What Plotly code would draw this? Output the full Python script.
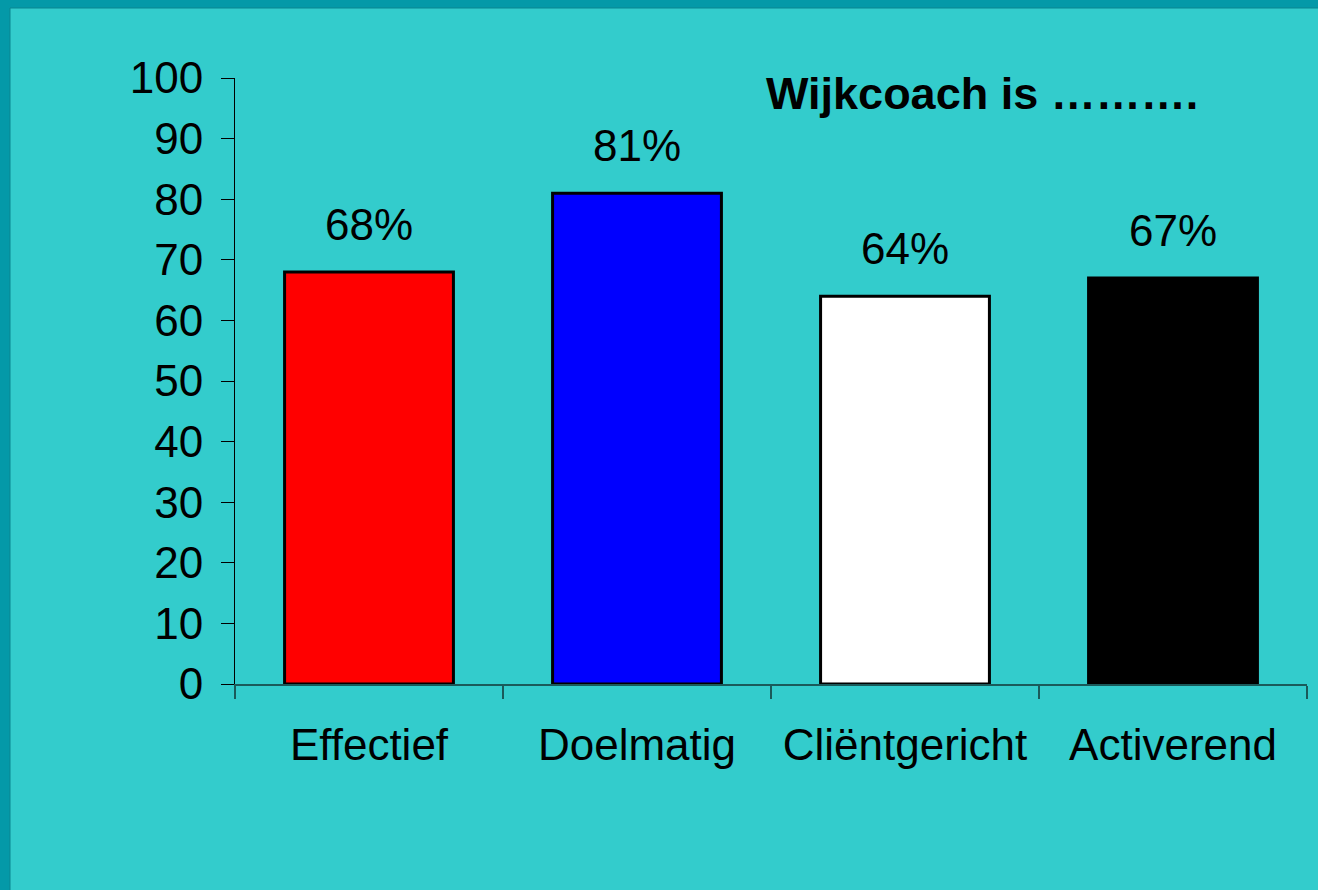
import plotly.graph_objects as go

categories = ["Effectief", "Doelmatig", "Cliëntgericht", "Activerend"]
values = [68, 81, 64, 67]
labels = ["68%", "81%", "64%", "67%"]
bar_colors = ["#FF0000", "#0000FF", "#FFFFFF", "#000000"]
y_ticks = [0, 10, 20, 30, 40, 50, 60, 70, 80, 90, 100]
title_text = "Wijkcoach is ………."

W, H = 1318, 890
L, R, T, B = 235, 11, 78, 206
pw, ph = W - L - R, H - T - B

def px_x(p):
    return (p - L) / pw

def px_y(p):
    return (H - B - p) / ph

FONT = "Arial, Liberation Sans, sans-serif"
FS = 44

fig = go.Figure()
fig.add_trace(go.Bar(
    x=categories, y=values,
    marker=dict(color=bar_colors, line=dict(color="#000000", width=3)),
    hoverinfo="skip",
))

for c, v, t in zip(categories, values, labels):
    fig.add_annotation(x=c, y=v, text=t, showarrow=False, yanchor="bottom",
                       yshift=21, font=dict(size=FS, color="#000000", family=FONT))

fig.add_annotation(xref="paper", yref="paper", x=px_x(764), y=px_y(121),
                   xanchor="left", yanchor="bottom", text="<b>" + title_text + "</b>",
                   showarrow=False, font=dict(size=45, color="#000000", family=FONT))

fig.add_shape(type="rect", xref="paper", yref="paper",
              x0=px_x(10), x1=px_x(1330), y0=px_y(900), y1=px_y(8),
              fillcolor="#33CCCC", line=dict(color="#0a8590", width=1), layer="below")

fig.update_layout(
    width=W, height=H,
    margin=dict(l=L, r=R, t=T, b=B, pad=0),
    paper_bgcolor="#0499A8",
    plot_bgcolor="rgba(0,0,0,0)",
    bargap=0.37,
    showlegend=False,
    font=dict(family=FONT, size=FS, color="#000000"),
    xaxis=dict(
        type="category", tickson="boundaries", ticks="outside", ticklen=13,
        tickcolor="#1a5a5a", tickwidth=1.5,
        showline=True, linecolor="#1a5a5a", linewidth=2,
        showgrid=False, zeroline=False, ticklabelstandoff=21,
        tickfont=dict(size=FS, family=FONT, color="#000000"),
    ),
    yaxis=dict(
        range=[0, 100], tickvals=y_ticks, ticks="outside", ticklen=13,
        tickcolor="#000000", tickwidth=1,
        showline=True, linecolor="#000000", linewidth=1,
        showgrid=False, zeroline=False, ticklabelstandoff=9,
        tickfont=dict(size=FS, family=FONT, color="#000000"),
    ),
)

fig.write_html(
    "out.html",
    config={"displayModeBar": False},
    post_script="document.body.style.margin='0';document.body.style.overflow='hidden';",
)
